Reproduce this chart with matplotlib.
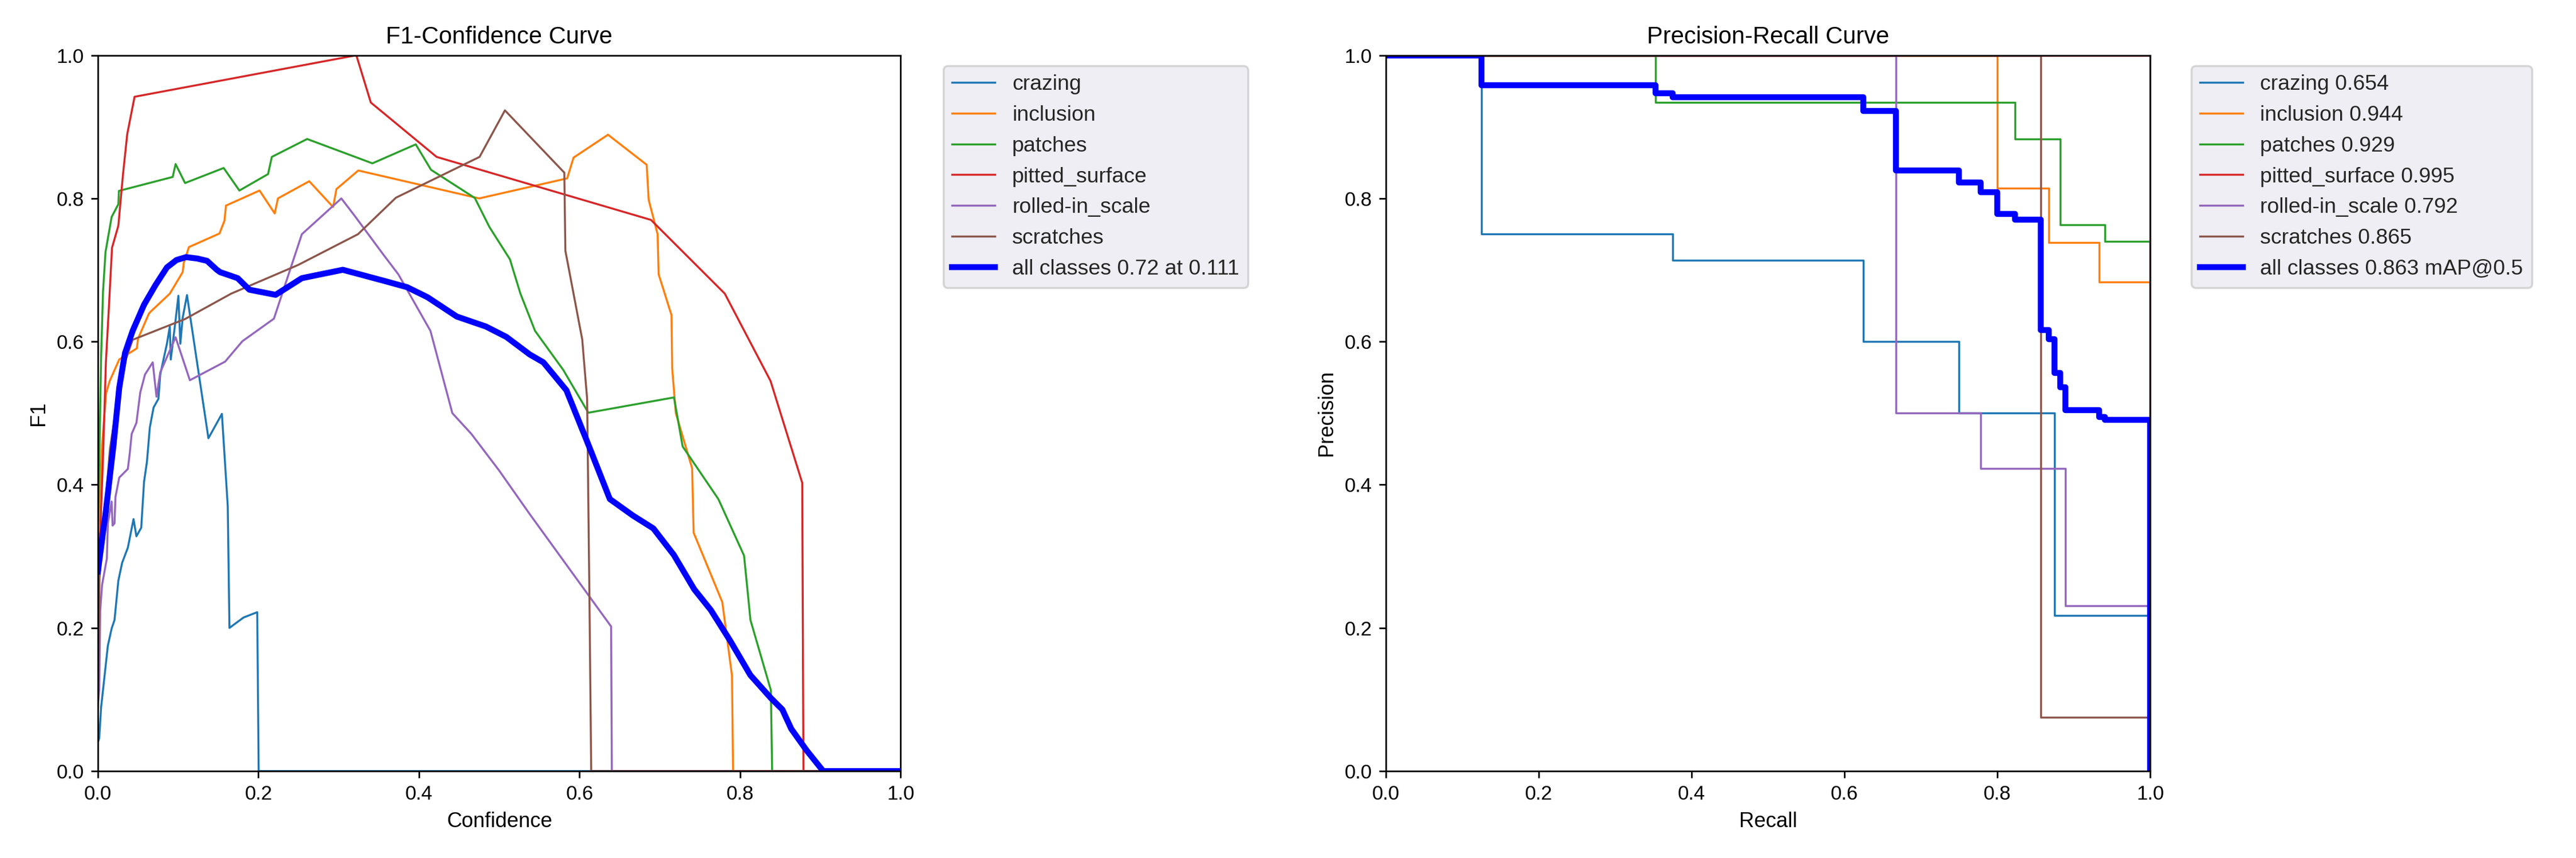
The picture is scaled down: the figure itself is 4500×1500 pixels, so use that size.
import matplotlib
matplotlib.use("Agg")
import matplotlib.pyplot as plt

plt.rcParams['font.family'] = ['Liberation Sans', 'DejaVu Sans']

# ---------------- data ----------------
class_names = ['crazing', 'inclusion', 'patches', 'pitted_surface', 'rolled-in_scale', 'scratches']
class_colors = ['#1f77b4', '#ff7f0e', '#2ca02c', '#d62728', '#9467bd', '#8c564b']
ap50 = [0.654, 0.944, 0.929, 0.995, 0.792, 0.865]
map50 = 0.863
best_f1 = 0.72
best_conf = 0.111

# F1-Confidence curves (confidence, F1)
crazing_conf = [0.0, 0.0017, 0.004, 0.0088, 0.0124, 0.0171, 0.0207, 0.0255, 0.0302, 0.0373, 0.0444, 0.048,
                0.054, 0.0575, 0.0611, 0.0647, 0.0694, 0.0754, 0.0777, 0.086, 0.0896, 0.0908, 0.0968, 0.1003,
                0.1027, 0.1056, 0.111, 0.1377, 0.1545, 0.1618, 0.1639, 0.1814, 0.1985, 0.2003, 1.0]
crazing_f1 = [0.04, 0.046, 0.089, 0.138, 0.175, 0.199, 0.211, 0.266, 0.291, 0.312, 0.352, 0.328,
              0.340, 0.404, 0.432, 0.480, 0.508, 0.520, 0.554, 0.597, 0.621, 0.575, 0.630, 0.664,
              0.597, 0.633, 0.665, 0.465, 0.499, 0.370, 0.200, 0.2145, 0.222, 0.0, 0.0]

inclusion_conf = [0.0, 0.0052, 0.0103, 0.0147, 0.0266, 0.0485, 0.05, 0.0635, 0.0659, 0.0896, 0.1056, 0.107,
                  0.1134, 0.1515, 0.1577, 0.1596, 0.2014, 0.2203, 0.2243, 0.2633, 0.293, 0.2972, 0.3244,
                  0.475, 0.5846, 0.5926, 0.6355, 0.6837, 0.6862, 0.6973, 0.6986, 0.7146, 0.7155, 0.720,
                  0.7403, 0.7422, 0.7779, 0.790, 0.7913, 1.0]
inclusion_f1 = [0.33, 0.456, 0.528, 0.545, 0.575, 0.5905, 0.604, 0.639, 0.642, 0.667, 0.697, 0.710,
                0.732, 0.751, 0.769, 0.790, 0.811, 0.779, 0.800, 0.824, 0.788, 0.813, 0.839,
                0.800, 0.828, 0.857, 0.889, 0.847, 0.798, 0.750, 0.694, 0.637, 0.562, 0.500,
                0.423, 0.333, 0.236, 0.133, 0.0, 0.0]

patches_conf = [0.0, 0.002, 0.004, 0.0064, 0.0095, 0.0171, 0.0255, 0.0262, 0.0932, 0.0968, 0.1086, 0.1567,
                0.1763, 0.212, 0.2167, 0.2607, 0.342, 0.396, 0.415, 0.4696, 0.4878, 0.5133, 0.5264,
                0.5446, 0.580, 0.611, 0.7177, 0.7285, 0.773, 0.805, 0.813, 0.8384, 0.840, 1.0]
patches_f1 = [0.33, 0.45, 0.578, 0.670, 0.725, 0.774, 0.792, 0.8105, 0.830, 0.848, 0.8215, 0.8425,
              0.811, 0.834, 0.858, 0.883, 0.849, 0.8755, 0.840, 0.8006, 0.760, 0.715, 0.667,
              0.615, 0.560, 0.5006, 0.522, 0.4535, 0.380, 0.301, 0.211, 0.113, 0.0, 0.0]

pitted_conf = [0.0, 0.0029, 0.0064, 0.01, 0.0136, 0.0176, 0.0255, 0.0314, 0.0366, 0.0457, 0.322, 0.340,
               0.422, 0.689, 0.781, 0.838, 0.8775, 0.879, 1.0]
pitted_f1 = [0.31, 0.334, 0.438, 0.572, 0.6455, 0.731, 0.762, 0.835, 0.890, 0.942, 1.0, 0.934,
             0.858, 0.770, 0.667, 0.545, 0.4026, 0.0, 0.0]

rolled_conf = [0.0, 0.0017, 0.0029, 0.0052, 0.0112, 0.0124, 0.0171, 0.0183, 0.0207, 0.0219, 0.0266, 0.0373,
               0.0397, 0.0421, 0.048, 0.0528, 0.0587, 0.0683, 0.073, 0.0777, 0.0968, 0.1146, 0.1585,
               0.18, 0.2193, 0.2541, 0.3033, 0.3197, 0.356, 0.3743, 0.4143, 0.4416, 0.4653, 0.4998,
               0.538, 0.6394, 0.6403, 1.0]
rolled_f1 = [0.09, 0.114, 0.224, 0.260, 0.297, 0.346, 0.3765, 0.343, 0.346, 0.383, 0.410, 0.422,
             0.444, 0.471, 0.4865, 0.529, 0.554, 0.571, 0.523, 0.557, 0.606, 0.546, 0.572,
             0.6005, 0.632, 0.750, 0.800, 0.776, 0.721, 0.694, 0.615, 0.500, 0.471, 0.420,
             0.359, 0.202, 0.0, 0.0]

scratches_conf = [0.0, 0.002, 0.015, 0.03, 0.0433, 0.1086, 0.1661, 0.2494, 0.324, 0.3713, 0.4755, 0.5071,
                  0.5811, 0.5824, 0.6034, 0.6095, 0.6123, 0.6146, 1.0]
scratches_f1 = [0.09, 0.27, 0.45, 0.56, 0.6025, 0.6315, 0.667, 0.707, 0.750, 0.801, 0.858, 0.923,
                0.836, 0.727, 0.603, 0.52, 0.25, 0.0, 0.0]

all_conf = [0.0, 0.01, 0.0195, 0.0266, 0.0338, 0.0433, 0.0575, 0.0718, 0.086, 0.098, 0.110, 0.124, 0.136,
            0.148, 0.1523, 0.1741, 0.1887, 0.2214, 0.2541, 0.3051, 0.356, 0.3852, 0.4106, 0.4471,
            0.4835, 0.5089, 0.538, 0.555, 0.5837, 0.6107, 0.6378, 0.6665, 0.692, 0.7175, 0.7429,
            0.7636, 0.7875, 0.8129, 0.8384, 0.8527, 0.8638, 0.8829, 0.9036, 1.0]
all_f1 = [0.279, 0.364, 0.456, 0.5355, 0.584, 0.615, 0.6515, 0.679, 0.7036, 0.714, 0.718, 0.716, 0.7128,
          0.7005, 0.697, 0.6886, 0.6725, 0.6653, 0.6886, 0.7003, 0.685, 0.676, 0.662, 0.635,
          0.621, 0.6065, 0.582, 0.571, 0.532, 0.457, 0.380, 0.357, 0.339, 0.302, 0.254,
          0.225, 0.1825, 0.134, 0.102, 0.086, 0.059, 0.029, 0.0, 0.0]

# Precision-Recall step curves (recall where level starts, precision level)
crazing_rec = [0.0, 0.125, 0.375, 0.625, 0.75, 0.875, 1.0]
crazing_prec = [1.0, 0.75, 0.714, 0.60, 0.50, 0.217, 0.0]
inclusion_rec = [0.0, 0.80, 0.867, 0.933, 1.0]
inclusion_prec = [1.0, 0.814, 0.738, 0.683, 0.0]
patches_rec = [0.0, 0.353, 0.8235, 0.882, 0.941, 1.0]
patches_prec = [1.0, 0.934, 0.883, 0.763, 0.740, 0.0]
pitted_rec = [0.0, 1.0]
pitted_prec = [1.0, 0.0]
rolled_rec = [0.0, 0.667, 0.778, 0.889, 1.0]
rolled_prec = [1.0, 0.50, 0.4225, 0.231, 0.0]
scratches_rec = [0.0, 0.857, 1.0]
scratches_prec = [1.0, 0.075, 0.0]
all_rec = [0.0, 0.125, 0.353, 0.375, 0.625, 0.667, 0.75, 0.778, 0.80, 0.8235, 0.857, 0.867, 0.875,
           0.882, 0.889, 0.933, 0.941, 1.0]
all_prec = [1.0, 0.958, 0.947, 0.941, 0.922, 0.839, 0.822, 0.809, 0.778, 0.770, 0.616, 0.603, 0.556,
            0.536, 0.504, 0.495, 0.491, 0.0]

f1_series = [(crazing_conf, crazing_f1), (inclusion_conf, inclusion_f1), (patches_conf, patches_f1),
             (pitted_conf, pitted_f1), (rolled_conf, rolled_f1), (scratches_conf, scratches_f1)]
pr_series = [(crazing_rec, crazing_prec), (inclusion_rec, inclusion_prec), (patches_rec, patches_prec),
             (pitted_rec, pitted_prec), (rolled_rec, rolled_prec), (scratches_rec, scratches_prec)]

# ---------------- figure ----------------
fig = plt.figure(figsize=(18, 6), dpi=250)
ax1 = fig.add_axes([0.0380, 0.1013, 0.3116, 0.8343])
ax2 = fig.add_axes([0.5380, 0.1013, 0.2967, 0.8343])

legend_kw = dict(bbox_to_anchor=(1.04, 1), loc='upper left', fontsize=10.8,
                 facecolor='#EAEAF2', labelspacing=0.5, labelcolor='#262626')

for (x, y), name, c in zip(f1_series, class_names, class_colors):
    ax1.plot(x, y, lw=1, color=c, label=name)
ax1.plot(all_conf, all_f1, lw=3, color='blue', label=f'all classes {best_f1:.2f} at {best_conf:.3f}')
ax1.set_xlim(0, 1)
ax1.set_ylim(0, 1)
ax1.set_xlabel('Confidence', fontsize=10.5)
ax1.set_ylabel('F1', fontsize=10.5)
ax1.set_title('F1-Confidence Curve', fontsize=12)
ax1.legend(**legend_kw)

for (x, y), name, c, ap in zip(pr_series, class_names, class_colors, ap50):
    ax2.step(x, y, where='post', lw=1, color=c, label=f'{name} {ap:.3f}')
ax2.step(all_rec, all_prec, where='post', lw=3, color='blue', label=f'all classes {map50:.3f} mAP@0.5')
ax2.set_xlim(0, 1)
ax2.set_ylim(0, 1)
ax2.set_xlabel('Recall', fontsize=10.5)
ax2.set_ylabel('Precision', fontsize=10.5)
ax2.set_title('Precision-Recall Curve', fontsize=12)
ax2.legend(**legend_kw)

fig.savefig('out.png', dpi=250)
